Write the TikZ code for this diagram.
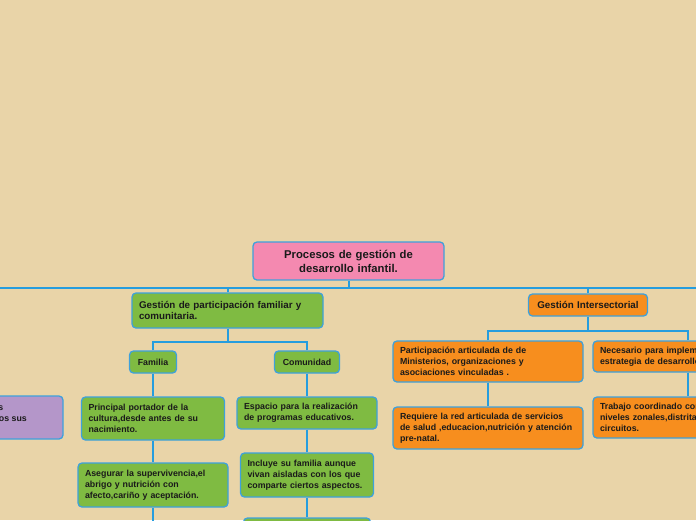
\documentclass[tikz,border=0pt]{standalone}
\usepackage{fontspec}
\setmainfont{Liberation Sans}
\usetikzlibrary{positioning}

\definecolor{bgtan}{RGB}{233,212,168}
\definecolor{rootpink}{RGB}{244,137,176}
\definecolor{leafgreen}{RGB}{127,187,66}
\definecolor{sectorange}{RGB}{247,142,30}
\definecolor{softpurple}{RGB}{180,150,201}
\definecolor{edgeblue}{RGB}{62,161,220}
\definecolor{linkblue}{RGB}{38,157,222}
\definecolor{textdark}{RGB}{26,26,26}

\begin{document}
\begin{tikzpicture}[
	x=1pt, y=-1pt,
	every node/.style={text=textdark},
	box/.style={draw=edgeblue, line width=1.3pt, rounded corners=4pt, inner xsep=7pt, inner ysep=0pt, align=left, font=\bfseries\fontsize{8.8}{11}\selectfont},
	topic/.style={box, font=\bfseries\fontsize{9.8}{11}\selectfont},
	family/.style={box, fill=leafgreen},
	sector/.style={box, fill=sectorange},
	link/.style={draw=linkblue, line width=2pt}
	]
	
	% === CANVAS ===
	\useasboundingbox (0,0) rectangle (696,520);
	\clip (0,0) rectangle (696,520);
	\fill[bgtan] (0,0) rectangle (696,520);
	
	% === ROOT ===
	\node[box, fill=rootpink, align=center, text width=177pt, minimum height=38pt, font=\bfseries\fontsize{11.3}{14}\selectfont]
	(root) at (348.5,261) {Procesos de gestión de\\desarrollo infantil.};
	
	% === MAIN TOPICS ===
	\node[topic, fill=leafgreen, text width=177pt, minimum height=35pt]
	(familiarcom) at (227.5,310.5) {Gestión de participación familiar y\\comunitaria.};
	\node[topic, fill=sectorange, align=center, text width=105pt, minimum height=22pt]
	(intersect) at (588,305) {Gestión Intersectorial};
	
	% === FAMILIA / COMUNIDAD ===
	\node[family, align=center, text width=33pt, minimum height=22pt] (familia) at (153,362) {Familia};
	\node[family, align=center, text width=51pt, minimum height=22pt] (comunidad) at (307,362) {Comunidad};
	
	\node[family, text width=129pt, minimum height=43pt] (portador) at (153,418.5)
	{Principal portador de la\\cultura,desde antes de su\\nacimiento.};
	\node[family, text width=136pt, minimum height=44pt] (asegurar) at (153,485)
	{Asegurar la supervivencia,el\\abrigo y nutrición con\\afecto,cariño y aceptación.};
	
	\node[family, text width=126pt, minimum height=32pt] (espacio) at (307,413)
	{Espacio para la realización\\de programas educativos.};
	\node[family, text width=119pt, minimum height=44pt] (incluye) at (307,475)
	{Incluye su familia aunque\\vivan aisladas con los que\\comparte ciertos aspectos.};
	\node[family, text width=113pt, minimum height=44pt] (lastcom) at (307,540) {};
	
	% === PURPLE BOX (cut by the left edge) ===
	\node[box, fill=softpurple, text width=186pt, minimum height=43pt] (purple) at (-37,417.5) {};
	\node[anchor=base east, inner sep=0pt, font=\bfseries\fontsize{8.8}{11}\selectfont] (purpleA) at (3.5,410) {s};
	\node[anchor=base east, inner sep=0pt, font=\bfseries\fontsize{8.8}{11}\selectfont] (purpleB) at (27,421) {os sus};
	
	% === INTERSECTORIAL ===
	\node[sector, text width=176pt, minimum height=41pt] (articulada) at (488,361.5)
	{Participación articulada de de\\Ministerios, organizaciones y\\asociaciones vinculadas .};
	\node[sector, text width=176pt, minimum height=42pt] (redservicios) at (488,428)
	{Requiere la red articulada de servicios\\de salud ,educacion,nutrición y atención\\pre-natal.};
	\node[sector, text width=176pt, minimum height=31pt] (necesario) at (688,356.5)
	{Necesario para implementar la\\estrategia de desarrollo infantil.};
	\node[sector, text width=176pt, minimum height=41pt] (coordinado) at (688,417.5)
	{Trabajo coordinado con los\\niveles zonales,distritales y\\circuitos.};
	
	% === CONNECTORS ===
	\coordinate (busW) at (-5,288);
	\coordinate (busE) at (701,288);
	\coordinate (rootbus) at (348.5,288);
	\coordinate (famcombus) at (227.5,342);
	\coordinate (intersectbus) at (588,331);
	\coordinate (familiaend) at (153,525);
	
	\draw[link] (busW) -- (busE);
	\draw[link] (root.south) -- (rootbus);
	\draw[link] (familiarcom.north) |- (rootbus);
	\draw[link] (intersect.north) |- (rootbus);
	
	\draw[link] (familiarcom.south) -- (famcombus);
	\draw[link] (familia.north) |- (famcombus);
	\draw[link] (comunidad.north) |- (famcombus);
	
	\draw[link] (intersect.south) -- (intersectbus);
	\draw[link] (articulada.north) |- (intersectbus);
	\draw[link] (necesario.north) |- (intersectbus);
	
	\foreach \a/\b in {familia/portador, portador/asegurar, comunidad/espacio, espacio/incluye,
		incluye/lastcom, articulada/redservicios, necesario/coordinado} {
		\draw[link] (\a.south) -- (\b.north);
	}
	\draw[link] (asegurar.south) -- (familiaend);
	
\end{tikzpicture}
\end{document}
